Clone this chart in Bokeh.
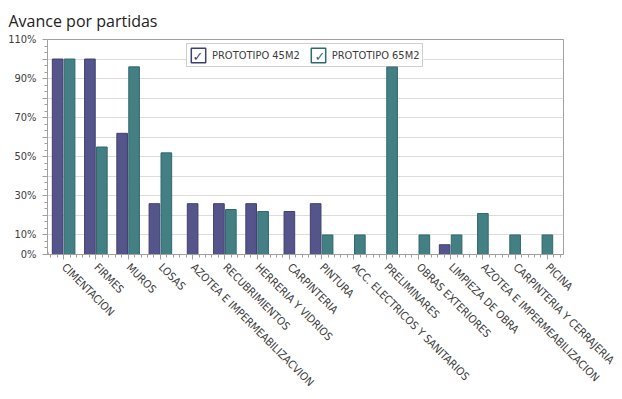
import math
from bokeh.plotting import figure
from bokeh.models import Range1d, FixedTicker, PrintfTickFormatter, Legend, LegendItem
from bokeh.core.properties import value
from bokeh.embed import file_html
from bokeh.resources import INLINE

# ---------------- data ----------------
categories = [
    "CIMENTACION", "FIRMES", "MUROS", "LOSAS", "AZOTEA E IMPERMEABILIZACVION",
    "RECUBRIMIENTOS", "HERRERIA Y VIDRIOS", "CARPINTERIA", "PINTURA",
    "ACC. ELECTRICOS Y SANITARIOS", "PRELIMINARES", "OBRAS EXTERIORES",
    "LIMPIEZA DE OBRA", "AZOTEA E IMPERMEABILIZACION", "CARPINTERIA Y CERRAJERIA", "PICINA",
]
prototipo_45 = [100, 100, 62, 26, 26, 26, 26, 22, 26, 0, 0, 0, 5, None, None, None]
prototipo_65 = [100, 55, 96, 52, None, 23, 22, None, 10, 10, 96, 10, 10, 21, 10, 10]
series_names = ["PROTOTIPO 45M2", "PROTOTIPO 65M2"]
y_ticks = [0, 10, 20, 30, 40, 50, 60, 70, 80, 90, 100, 110]
y_labeled = [0, 10, 30, 50, 70, 90, 110]
title_text = "Avance por partidas"

# ---------------- style / layout ----------------
FONT = "DejaVu Sans Condensed"
TEXT = "#3c3c3c"
AXIS = "#a0a0a0"
fills = ["#55558b", "#437f83"]
lines = ["#3f3f72", "#2f6a6d"]

W, H = 622, 399
FL, FR, FT, FB = 47, 563, 39, 254   # frame edges in canvas pixels
n = len(categories)
y_max = 110
px_per_x = (FR - FL) / n
px_per_y = (FB - FT) / y_max


def dx(px):
    return (px - FL) / px_per_x


def dy(py):
    return (FB - py) / px_per_y


p = figure(width=W, height=H, output_backend="svg", toolbar_location=None,
           x_range=Range1d(0, n), y_range=Range1d(0, y_max),
           min_border_left=FL, min_border_right=W - FR, min_border_top=FT, min_border_bottom=H - FB)
p.background_fill_color = "white"
p.border_fill_color = "white"
p.outline_line_color = AXIS

# legend box geometry (pixels)
leg_left, leg_right, leg_top, leg_bottom = 186, 423, 45, 67

# white backing for the legend (hides the grid line behind it)
p.quad(left=[dx(leg_left)], right=[dx(leg_right)], bottom=[dy(leg_bottom)], top=[dy(leg_top)],
       fill_color="white", line_color=None)

bar_w = 0.33
off = 0.185
for s, (vals, fc, lc) in enumerate(zip([prototipo_45, prototipo_65], fills, lines)):
    xs, tops = [], []
    for i in range(n):
        v = vals[i]
        both = prototipo_45[i] is not None and prototipo_65[i] is not None
        if v is None or v == 0:
            continue
        shift = (-off if s == 0 else off) if both else 0.0
        xs.append(i + 0.5 + shift)
        tops.append(v)
    p.vbar(x=xs, top=tops, bottom=0, width=bar_w, fill_color=fc, line_color=lc, line_width=1)

# check marks inside the legend check boxes
check_px = [197.5, 319.5]
p.text(x=[dx(c) for c in check_px], y=[dy(55.5)] * 2, text=["\u2713", "\u2713"],
       text_color=lines, text_align="center", text_baseline="middle",
       text_font=value("DejaVu Sans"), text_font_size="13px", text_font_style="bold")

# legend (transparent so the checks show through); dummy glyphs outside visible x range
items = []
for name, lc in zip(series_names, lines):
    r = p.vbar(x=[-10], top=[1], width=0.3, fill_alpha=0, line_color=lc, line_width=1.5)
    items.append(LegendItem(label=name, renderers=[r]))
legend = Legend(items=items, orientation="horizontal", location=(leg_left - FL, FB - leg_bottom),
                padding=2, spacing=9, margin=0, label_standoff=5,
                glyph_width=18, glyph_height=18, label_height=18,
                label_text_font=FONT, label_text_font_size="11px", label_text_color=TEXT,
                border_line_color=AXIS, border_line_width=1,
                background_fill_alpha=0.0)
p.add_layout(legend)

# axes
p.xgrid.visible = False
p.ygrid.ticker = FixedTicker(ticks=y_ticks[1:-1])
p.ygrid.grid_line_color = "#dcdcdc"

xa = p.xaxis[0]
xa.ticker = FixedTicker(ticks=[i + 0.5 for i in range(n)],
                        minor_ticks=[i + f for i in range(n) for f in (0.1, 0.3, 0.7, 0.9)])
xa.major_label_overrides = {i + 0.5: c for i, c in enumerate(categories)}
xa.major_label_orientation = -math.pi / 4

ya = p.yaxis[0]
ya.ticker = FixedTicker(ticks=y_ticks, minor_ticks=[k * 10 / 3 for k in range(34) if k % 3 != 0])
ya.formatter = PrintfTickFormatter(format="%d%%")
ya.major_label_overrides = {t: "" for t in y_ticks if t not in y_labeled}

for ax in (xa, ya):
    ax.axis_line_color = AXIS
    ax.major_tick_line_color = AXIS
    ax.minor_tick_line_color = AXIS
    ax.major_tick_in = 0
    ax.minor_tick_in = 0
    ax.major_tick_out = 5
    ax.minor_tick_out = 3
    ax.major_label_text_font = FONT
    ax.major_label_text_font_size = "11px"
    ax.major_label_text_color = TEXT
    ax.major_label_standoff = 6

p.title.text = title_text
p.title.text_font = "Open Sans"
p.title.text_font_size = "16px"
p.title.text_font_style = "normal"
p.title.text_color = "#222222"
p.title.align = "left"
p.title.offset = -39
p.title.standoff = 15

open("out.html", "w").write(file_html(p, INLINE))
